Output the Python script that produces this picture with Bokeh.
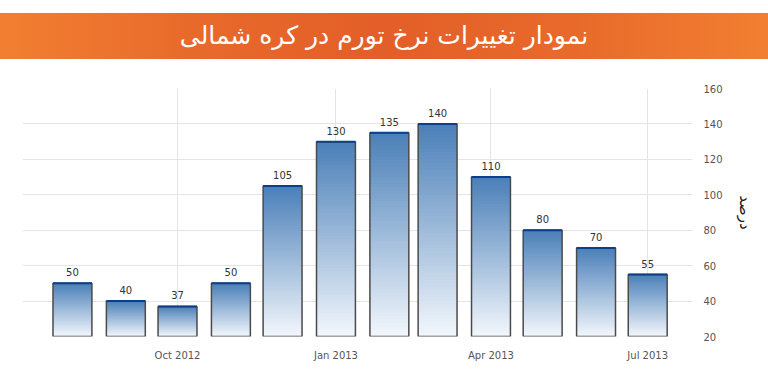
import numpy as np
import pandas as pd
from bokeh.plotting import figure
from bokeh.layouts import column
from bokeh.models import Range1d, FixedTicker, DatetimeTickFormatter, ColumnDataSource, Div
from bokeh.embed import file_html
from bokeh.resources import INLINE
from bokeh.core.properties import value

# ---------------- data ----------------
title_text = "نمودار تغییرات نرخ تورم در کره شمالی"
axis_label_text = "درصد"
months = ["2012-08", "2012-09", "2012-10", "2012-11", "2012-12", "2013-01",
          "2013-02", "2013-03", "2013-04", "2013-05", "2013-06", "2013-07"]
values = [50, 40, 37, 50, 105, 130, 135, 140, 110, 80, 70, 55]
tick_months = ["2012-10", "2013-01", "2013-04", "2013-07"]
y_ticks = [20, 40, 60, 80, 100, 120, 140, 160]
y_min, y_max = 20, 160

# ---------------- style ----------------
FONT = "DejaVu Sans"
W = 768
BANNER_H = 60
PLOT_H = 303
top_rgb = np.array([0x4a, 0x7f, 0xb8])
bot_rgb = np.array([0xf3, 0xf7, 0xfc])
N_SLICES = 60

def hexc(rgb):
    r, g, b = [int(round(c)) for c in rgb]
    return "#%02x%02x%02x" % (r, g, b)

# ---------------- banner ----------------
banner = Div(
    text=('<div style="display:block;box-sizing:border-box;width:%dpx;margin-top:13px;'
          'height:46px;line-height:46px;'
          'background:linear-gradient(90deg,#f27f31 0%%,#e86a2b 25%%,#e35e28 50%%,'
          '#e86a2b 75%%,#f27f31 100%%);color:#ffffff;text-align:center;'
          "font-family:'DejaVu Sans';font-size:25px;white-space:nowrap;\">" % W
          + title_text + '</div>'),
    width=W, height=BANNER_H, margin=(0, 0, 0, 0),
    styles={"width": "%dpx" % W, "display": "block"},
)

# ---------------- main chart ----------------
dates = pd.to_datetime([m + "-01" for m in months])
tick_dates = pd.to_datetime([m + "-01" for m in tick_months])
tick_ms = [int(d.value // 10**6) for d in tick_dates]
bar_w = 22.6 * 86400000

p = figure(width=W, height=PLOT_H, output_backend="svg", toolbar_location=None,
           x_axis_type="datetime", y_axis_location="right",
           x_range=Range1d(pd.Timestamp("2012-07-03"), pd.Timestamp("2013-07-27")),
           y_range=Range1d(y_min, y_max),
           min_border_left=22, min_border_top=28, min_border_right=76,
           min_border_bottom=26, outline_line_color=None, margin=(0, 0, 0, 0))

# gradient bars via slices
xs, tops, bots, fills = [], [], [], []
for d, v in zip(dates, values):
    for k in range(N_SLICES):
        b0 = y_min + (v - y_min) * k / N_SLICES
        b1 = y_min + (v - y_min) * (k + 1) / N_SLICES
        t = (k + 0.5) / N_SLICES
        xs.append(d)
        bots.append(b0)
        tops.append(min(b1 + 0.6, v))
        fills.append(hexc(bot_rgb + (top_rgb - bot_rgb) * t))
p.vbar(x=xs, width=bar_w, top=tops, bottom=bots, fill_color=fills, line_color=None)

src = ColumnDataSource(dict(x=dates, top=values, label=[str(v) for v in values],
                            x0=dates - pd.Timedelta(milliseconds=bar_w / 2),
                            x1=dates + pd.Timedelta(milliseconds=bar_w / 2)))
p.vbar(x="x", width=bar_w, top="top", bottom=y_min, source=src,
       fill_color=None, line_color="#4a4a4a", line_width=1.5)
p.segment(x0="x0", x1="x1", y0="top", y1="top", source=src,
          line_color="#0c3f8a", line_width=2)
p.text(x="x", y="top", text="label", source=src, text_align="center",
       text_baseline="bottom", y_offset=-7, text_font_size="10px",
       text_color="#333333", text_font=value(FONT))

# axes
p.xaxis.ticker = FixedTicker(ticks=tick_ms)
fmt = "%b %Y"
p.xaxis.formatter = DatetimeTickFormatter(days=fmt, months=fmt, years=fmt, hours=fmt)
p.xaxis.axis_line_color = None
p.xaxis.major_tick_line_color = None
p.xaxis.minor_tick_line_color = None
p.xaxis.major_label_standoff = 7
p.xaxis.major_label_text_font_size = "10px"
p.xaxis.major_label_text_color = "#555555"
p.xaxis.major_label_text_font = FONT

p.yaxis.ticker = FixedTicker(ticks=y_ticks)
p.yaxis.axis_line_color = None
p.yaxis.major_tick_line_color = None
p.yaxis.minor_tick_line_color = None
p.yaxis.major_label_standoff = 5
p.yaxis.major_label_text_font_size = "10px"
p.yaxis.major_label_text_color = "#555555"
p.yaxis.major_label_text_font = FONT
p.yaxis.axis_label = axis_label_text
p.yaxis.axis_label_text_font = FONT
p.yaxis.axis_label_text_font_style = "normal"
p.yaxis.axis_label_text_font_size = "15px"
p.yaxis.axis_label_text_color = "#222222"
p.yaxis.axis_label_standoff = 10

p.xgrid.ticker = FixedTicker(ticks=tick_ms)
p.ygrid.ticker = FixedTicker(ticks=y_ticks)
p.grid.grid_line_color = "#e4e4e4"
p.grid.grid_line_width = 1

layout = column(banner, p, spacing=0)
open("out.html", "w").write(file_html(layout, INLINE))
